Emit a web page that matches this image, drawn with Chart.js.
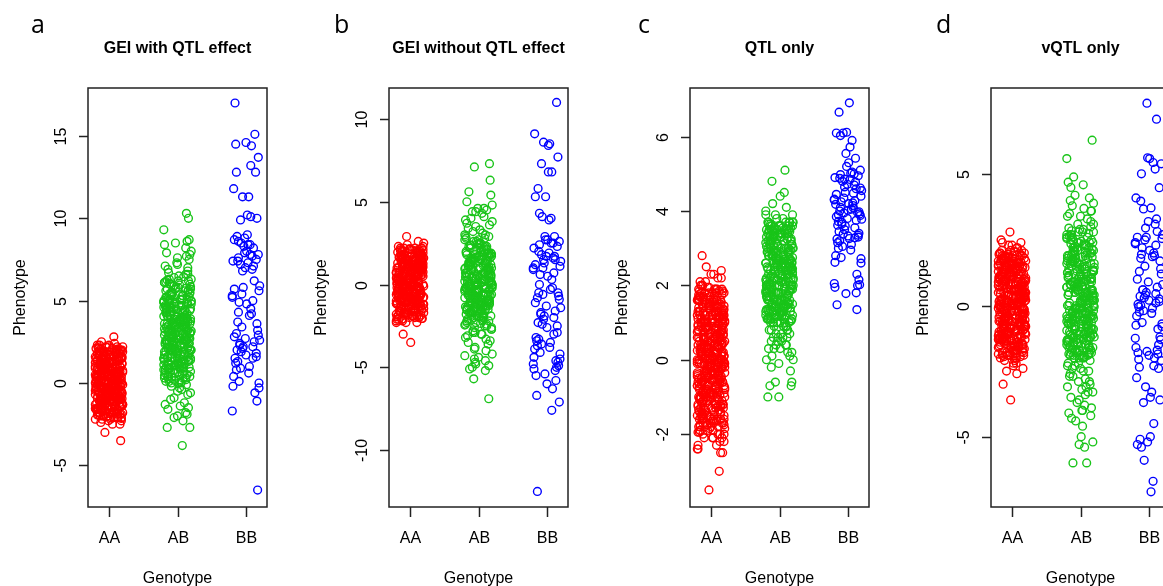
<!DOCTYPE html>
<html>
<head>
<meta charset="utf-8">
<script src="https://cdn.jsdelivr.net/npm/chart.js@4"></script>
<style>
html, body { margin: 0; padding: 0; background: #fff; overflow: hidden; width: 1163px; height: 586px; }
.panel { position: absolute; top: 0; width: 301px; height: 586px; }
</style>
</head>
<body>
<div class="panel" style="left:0px"><canvas id="panelA" width="301" height="586"></canvas></div>
<div class="panel" style="left:301px"><canvas id="panelB" width="301" height="586"></canvas></div>
<div class="panel" style="left:602px"><canvas id="panelC" width="301" height="586"></canvas></div>
<div class="panel" style="left:903px"><canvas id="panelD" width="301" height="586"></canvas></div>
<script>
var genotypes = ['AA', 'AB', 'BB'];
var panelLetters = ['a', 'b', 'c', 'd'];
var panelTitles = ['GEI with QTL effect', 'GEI without QTL effect', 'QTL only', 'vQTL only'];
var groupColors = ['#ff0000', '#19c419', '#0000ff'];

// y-axis tick values and ranges per panel
var ticksA = [-5, 0, 5, 10, 15];
var ticksB = [-10, -5, 0, 5, 10];
var ticksC = [-2, 0, 2, 4, 6];
var ticksD = [-5, 0, 5];
var rangeA = [-7.53, 17.91];
var rangeB = [-13.44, 11.87];
var rangeC = [-3.96, 7.31];
var rangeD = [-7.68, 8.29];

// horizontal jitter (stripchart style), in category units
var jitter = [0.03,-0.17,0.12,0.19,-0.05,-0.11,0.07,0.15,-0.19,-0.02,0.09,-0.14,-0.08,0.18,0.01,-0.2,-0.04,0.13,0.16,-0.12,
  0.05,0.1,-0.16,-0.07,0.2,-0.01,-0.18,0.14,0.06,-0.1,-0.13,0.17,0.02,0.11,-0.06,-0.15,0.08,-0.03,0.19,-0.09,
  -0.19,0.04,0.15,-0.11,0.0,0.12,-0.17,-0.05,0.18,-0.14,0.07,-0.02,-0.2,0.1,0.16,-0.08,0.03,-0.12,-0.16,0.13,
  0.06,-0.04,0.2,-0.1,-0.18,0.09,0.01,-0.07,0.14,-0.13,-0.01,0.17,0.05,-0.15,0.11,-0.06,-0.09,0.19,0.02,-0.19,
  0.08,0.15,-0.03,-0.11,0.12,-0.17,0.04,-0.14,0.18,0.1,-0.05,-0.2,0.07,-0.08,0.16,-0.12,0.0];

// a: GEI with QTL effect
var aAA = [0.3,-1.2,1.8,-0.4,0.9,-2.1,1.3,-0.8,0.1,2.0,-1.6,0.6,-0.1,1.1,-1.9,0.4,-0.6,1.6,-1.0,2.2,
  -0.3,1.4,-1.4,0.8,-2.2,0.0,1.9,-0.7,0.5,-1.7,1.2,-0.2,2.1,-1.1,0.7,-0.5,1.5,-1.8,0.2,-0.9,
  1.0,-1.3,0.4,-2.0,1.7,-0.6,0.1,1.3,-1.5,0.9,-0.1,2.3,-0.9,0.6,-1.9,1.1,-0.3,0.3,-1.2,1.8,
  -0.8,0.5,-1.6,2.0,-0.4,1.2,-2.1,0.2,1.6,-1.0,0.8,-0.2,1.4,-1.4,0.0,-0.7,1.9,-1.7,0.7,-0.5,
  0.6,-1.1,1.5,-0.3,2.2,-1.8,0.3,-0.9,1.0,-0.1,-2.2,1.3,-0.6,0.9,-1.3,0.1,1.7,-1.5,0.4,-0.2,
  1.2,-0.5,0.0,-1.9,1.8,-0.8,0.5,2.1,-1.2,0.8,-0.4,1.4,-2.0,0.2,-1.0,1.1,-0.1,0.6,-1.6,1.6,
  -1.4,0.9,-0.7,1.9,-0.2,0.3,-2.1,1.5,-1.1,0.7,-0.3,1.0,-1.7,2.0,-0.6,0.4,-0.9,1.3,-1.3,0.1,
  0.8,-1.5,1.1,-0.1,1.6,-2.0,0.5,-0.8,2.2,-1.2,0.0,-0.5,1.2,-1.8,0.9,-0.4,1.7,-1.0,0.3,-2.2,
  -0.6,1.5,-1.3,0.2,-1.9,1.0,-0.2,0.7,-1.6,1.9,-0.9,0.4,-0.1,1.3,-1.4,2.1,-0.7,0.6,-1.1,1.4,
  0.1,-1.7,0.9,-0.5,1.8,-1.0,0.3,-2.1,1.2,-0.3,0.8,-1.5,1.6,-0.8,0.0,-1.2,2.0,-0.4,1.1,-1.9,
  1.3,-0.2,0.6,-1.4,0.4,-0.9,1.7,-2.0,0.2,-0.6,1.0,-1.1,2.2,-1.8,0.7,-0.1,1.5,-0.7,0.5,-1.3,
  -1.05,0.35,1.65,-0.25,0.95,-1.75,0.15,2.05,-0.65,1.25,-1.45,0.55,-0.05,1.85,-0.85,0.75,-2.05,1.45,-1.25,0.05,
  0.65,-0.35,1.05,-1.95,0.25,1.55,-0.75,-1.35,2.15,-0.15,0.85,-1.15,0.45,1.95,-0.55,1.35,-1.65,-0.95,0.15,1.15,
  -1.85,1.75,-0.45,0.95,-1.05,0.35,2.05,-0.25,-1.55,0.65,1.25,-0.85,0.05,-2.15,1.65,-0.65,0.55,-1.25,1.05,-0.05,
  0.25,-1.45,1.85,-0.75,0.75,-0.15,1.45,-1.95,0.45,-1.15,1.15,-0.55,2.15,-1.75,0.85,-0.35,1.55,-1.05,0.15,-0.95,
  1.35,-0.25,-1.65,0.55,1.95,-0.85,0.05,-1.35,1.05,-0.45,0.65,-2.05,1.75,-0.65,0.35,-1.55,1.25,-0.05,0.95,-1.85,
  2.8,2.5,2.4,-2.5,-2.4,-2.5,-3.0,-3.5,2.3,-2.3,2.3,-2.3,1.9,-1.6,0.9,-0.9];
var aAB = [3.1,0.4,5.2,1.8,6.3,2.5,-0.2,4.4,1.1,3.7,5.9,0.9,2.9,4.8,1.5,6.8,2.2,3.4,0.1,4.1,
  2.7,5.5,1.3,3.9,0.6,4.6,2.0,6.1,-0.6,3.3,1.7,5.0,2.4,4.2,0.3,3.6,5.7,1.0,2.8,7.2,
  4.0,1.6,3.0,5.3,0.8,2.6,4.7,-0.9,3.8,6.5,1.4,2.1,5.1,0.0,3.5,4.5,1.9,6.0,2.3,3.2,
  0.5,4.9,2.9,1.2,5.8,3.6,-0.4,2.4,4.3,7.0,1.7,3.1,0.2,5.4,2.7,4.0,1.0,3.9,6.6,2.0,
  3.4,5.6,0.7,2.5,4.6,1.5,-1.2,3.0,6.2,2.2,4.1,0.9,3.7,5.0,1.3,2.8,7.5,0.4,4.4,2.6,
  1.9,4.8,3.3,0.0,5.5,2.1,3.8,6.4,1.1,2.9,-0.7,4.2,1.6,3.5,5.2,0.6,2.4,4.7,3.0,6.9,
  2.3,0.8,4.3,1.4,3.6,5.7,-0.1,2.7,4.9,1.8,3.2,6.1,0.3,2.0,4.5,3.9,1.2,5.3,2.6,7.8,
  4.7,2.2,0.5,3.1,5.9,1.7,3.8,-1.5,2.5,4.0,1.0,6.7,3.4,0.1,5.1,2.8,4.4,1.5,3.0,5.6,
  1.3,3.7,6.0,2.4,0.7,4.6,3.2,1.9,5.4,-0.3,2.9,4.1,7.3,1.6,3.5,0.2,5.0,2.1,4.3,3.9,
  3.6,1.1,4.9,2.6,-1.0,5.8,3.0,0.9,4.2,2.3,6.3,1.4,3.3,5.2,0.4,2.7,4.6,1.8,8.0,3.8,
  2.0,5.3,0.6,3.4,4.8,1.2,2.8,6.6,-0.5,3.7,1.7,4.4,2.5,5.7,0.0,3.1,4.0,1.0,7.1,2.2,
  4.5,2.9,1.5,3.9,6.2,0.8,2.4,5.1,3.3,-1.8,1.9,4.3,2.6,7.6,0.3,3.6,5.5,1.3,2.1,4.9,
  2.45,4.15,0.85,3.35,5.65,1.55,2.95,4.75,0.25,3.85,6.15,1.95,2.35,5.05,1.15,3.55,4.45,0.65,2.75,5.45,
  3.95,1.35,4.85,2.15,0.45,3.25,5.95,1.75,4.35,2.65,6.45,1.05,3.05,4.95,0.15,2.55,3.75,5.25,1.45,4.05,
  1.85,5.35,2.85,0.55,4.55,3.45,1.25,6.05,2.25,3.65,0.95,5.15,2.05,4.25,1.65,3.15,5.75,0.35,2.65,4.65,
  3.35,0.75,4.95,1.95,3.85,2.45,5.55,1.15,4.45,2.85,6.25,0.05,3.55,1.55,5.05,2.35,4.15,3.05,1.35,5.85,
  10.3,10.0,9.3,8.7,8.6,8.4,8.2,8.5,7.9,7.7,-2.0,-2.3,-2.7,-2.7,-3.8,-1.6,-1.9,-1.3,-2.1,-1.4];
var aBB = [17.0,15.1,14.6,14.4,14.5,13.7,13.2,12.8,12.8,11.8,11.3,11.3,10.2,10.0,9.9,10.1,
  9.0,8.9,8.8,8.7,8.6,8.5,8.4,8.4,8.3,8.2,8.0,7.9,7.8,7.8,7.7,7.6,7.5,7.4,7.4,7.3,7.2,7.1,7.0,6.9,6.8,
  6.2,5.9,5.8,5.7,5.6,5.4,5.3,5.2,5.0,4.9,4.8,4.5,
  4.3,4.2,4.1,3.7,3.6,3.4,3.2,3.0,2.9,2.8,2.7,2.6,2.5,2.4,2.3,2.2,2.2,2.1,2.0,1.9,
  1.8,1.7,1.6,1.5,1.5,1.3,1.2,1.0,0.9,0.8,
  0.6,0.4,0.1,0.0,-0.2,-0.3,-0.6,-1.1,-1.7,-6.5];

// b: GEI without QTL effect
var bAA = [-0.4,1.7,0.2,-1.5,2.1,-0.9,0.8,-2.0,1.1,-0.1,0.5,-1.2,1.9,-0.6,0.0,1.4,-1.8,0.7,-0.3,1.2,
  0.9,-1.0,1.6,-0.5,0.3,-2.1,1.3,-0.2,2.2,-1.4,0.6,-0.8,1.0,-1.7,0.1,1.8,-0.7,0.4,-1.1,1.5,
  -1.3,0.6,2.0,-0.3,1.1,-1.9,0.2,-0.9,1.7,-0.1,0.8,-1.6,1.4,-0.5,0.0,2.1,-1.2,0.5,-0.7,1.0,
  0.4,-1.5,1.2,-0.2,1.9,-1.0,0.7,-2.0,0.1,1.5,-0.6,0.9,-1.3,2.2,-0.4,1.3,-1.8,0.3,-0.8,1.6,
  1.8,-0.6,0.0,-1.4,1.0,-0.3,2.0,-1.1,0.6,-1.9,1.4,-0.1,0.8,-0.9,1.7,-1.6,0.2,1.1,-0.5,-2.1,
  -0.2,1.2,-1.7,0.5,2.1,-0.8,0.9,-1.2,1.6,0.1,-0.4,1.9,-1.5,0.7,-1.0,1.3,-0.6,0.3,-2.0,1.5,
  0.7,-0.9,1.5,-1.3,0.2,1.8,-0.5,1.0,-2.1,0.4,-0.1,1.2,-1.8,2.2,-0.7,0.6,-1.1,1.7,0.0,-1.4,
  1.1,-0.3,0.5,-1.6,2.0,-1.0,1.4,-0.2,0.8,-1.9,0.3,1.6,-0.8,1.0,-1.2,0.1,1.9,-0.6,-1.5,0.9,
  -1.1,1.3,-0.4,0.6,-2.0,1.7,-0.7,0.0,1.1,-1.4,2.1,-0.2,0.4,-1.7,1.5,-0.9,0.8,-0.1,1.2,-1.3,
  0.2,-1.8,1.0,-0.6,1.6,-1.1,0.7,-0.3,2.0,-1.5,0.3,1.4,-0.9,0.9,-2.1,1.8,-0.5,0.5,-1.2,1.3,
  0.55,-1.35,1.45,-0.15,1.95,-0.75,0.25,-1.85,1.05,-0.45,0.75,-1.15,2.05,-0.05,0.35,-1.65,1.25,-0.95,0.05,1.75,
  -0.55,0.95,-2.05,0.45,1.55,-0.25,1.15,-1.45,0.15,-0.85,1.85,-1.05,0.65,-0.35,1.35,-1.75,0.85,2.15,-0.65,-1.25,
  1.65,-0.05,0.35,-1.55,1.05,-0.95,0.15,1.95,-0.45,0.75,-1.95,1.25,-0.25,0.55,-1.15,1.45,-0.75,0.05,-1.35,0.95,
  -0.15,1.75,-0.85,0.45,-1.65,1.15,-0.55,2.05,-1.05,0.25,1.55,-0.35,0.85,-1.85,0.65,-0.05,1.35,-1.25,0.35,-0.65,
  1.05,-1.45,0.15,1.85,-0.95,0.55,-0.25,1.25,-2.05,0.95,-0.75,1.65,-1.15,0.05,-0.45,1.45,-1.55,0.75,2.15,-0.15,
  2.9,2.6,2.5,2.4,2.3,2.3,-2.3,-2.3,-2.2,-2.3,-3.0,-3.5,2.2,-2.2,1.9,-1.9,0.6,-0.6];
var bAB = [0.3,-1.5,1.8,-0.4,2.6,-2.2,0.9,-0.9,1.3,-3.1,0.0,3.4,-1.2,1.6,-0.6,2.1,-1.8,0.5,-2.7,1.0,
  -0.2,1.4,-1.0,3.0,-0.7,0.7,-2.4,2.3,-1.6,0.1,1.9,-0.3,4.1,-1.3,0.6,-2.0,1.2,-3.6,2.8,-0.5,
  1.5,-1.1,0.2,-2.9,2.0,-0.8,1.1,-1.9,3.7,-0.1,0.8,-1.4,2.5,-0.4,-3.3,1.7,-0.9,0.4,-2.2,1.3,
  -1.7,0.9,-0.2,2.2,-1.2,3.2,-0.6,0.5,-2.5,1.6,-1.0,0.0,4.4,-1.5,1.0,-3.9,2.7,-0.3,0.7,-2.1,
  2.4,-0.5,1.2,-1.8,0.3,-1.1,3.6,-2.6,0.8,-0.1,1.9,-1.4,0.1,-4.2,2.1,-0.7,1.4,-2.3,3.0,-0.9,
  0.6,-2.0,1.7,-0.3,2.9,-1.3,0.2,-0.8,1.1,-3.0,0.4,2.3,-1.6,-0.2,1.5,-2.7,3.9,-0.6,0.9,-1.2,
  -0.4,1.8,-1.5,0.7,-2.4,2.6,-0.1,1.0,-1.0,4.6,-3.5,0.5,-1.9,1.3,-0.7,2.0,-2.9,0.1,3.3,-1.1,
  1.1,-0.6,2.2,-1.7,0.0,-2.2,1.6,-0.9,3.1,-1.3,0.6,-4.0,2.5,-0.3,1.2,-2.0,0.3,-1.6,1.9,-3.2,
  -1.0,0.4,-2.8,1.4,-0.5,2.8,-1.4,0.8,-0.2,3.5,-2.3,1.7,-4.5,0.2,-0.8,2.3,-1.8,1.0,-0.1,4.0,
  0.7,-1.2,2.4,-0.4,1.5,-3.4,0.0,-1.9,1.8,-0.7,3.8,-2.5,0.9,-1.1,2.1,-0.2,-3.8,1.3,-1.5,0.5,
  2.7,-0.9,0.3,-2.1,1.2,-0.5,4.3,-1.6,0.6,-3.0,1.9,-1.0,0.1,2.9,-2.6,1.0,-0.3,-4.3,1.6,-1.3,
  0.45,-1.25,1.65,-0.35,0.95,-1.75,2.25,-0.65,0.15,-2.15,1.35,-0.95,0.65,-0.05,1.95,-1.45,0.25,-0.55,1.15,-1.05,
  -0.15,2.45,-1.55,0.85,-0.75,1.45,-2.35,0.35,-0.25,1.75,-1.15,0.55,-1.85,2.05,-0.45,1.05,-1.35,0.05,1.55,-0.85,
  1.25,-0.45,0.75,-1.65,2.15,-0.05,-1.15,0.45,1.85,-0.75,-2.45,0.95,-0.25,1.35,-1.95,0.15,2.35,-0.65,0.65,-1.25,
  7.3,7.1,6.3,5.6,5.4,5.0,4.6,4.8,4.5,4.4,-5.0,-4.8,-5.2,-4.7,-5.1,-5.7,-6.9,-4.4,-4.9,-4.6];
var bBB = [11.0,9.1,8.6,8.5,8.4,7.7,7.3,6.8,6.8,5.8,5.3,5.3,4.3,4.1,4.0,3.9,
  2.9,2.9,2.7,2.7,2.6,2.5,2.5,2.4,2.3,2.2,2.0,1.9,1.8,1.7,1.7,1.6,1.5,1.5,1.4,1.3,1.2,1.1,1.0,1.0,0.9,0.7,0.6,
  0.5,0.3,0.0,-0.2,-0.3,-0.5,-0.5,-0.6,-0.7,-0.8,-0.9,
  -1.1,-1.3,-1.4,-1.6,-1.7,-1.8,-1.9,-2.0,-2.1,-2.3,-2.4,-2.5,-2.6,-2.9,
  -3.0,-3.2,-3.3,-3.4,-3.5,-3.6,-3.7,-3.8,-3.9,-4.1,-4.2,-4.4,-4.5,-4.6,-4.7,-4.8,-4.9,-5.0,-5.1,-5.2,
  -5.4,-5.5,-5.8,-6.0,-6.3,-6.7,-7.1,-7.6,-12.5];

// c: QTL only
var cAA = [0.4,-1.1,1.3,-0.2,0.8,-1.6,0.1,1.0,-0.7,1.6,-0.4,0.6,-1.3,0.2,1.4,-0.9,0.0,-1.5,0.9,-0.3,
  -0.6,1.1,-1.2,0.5,1.7,-0.1,0.3,-1.4,1.2,-0.8,0.7,-0.5,1.5,-1.0,0.0,-1.7,0.9,-0.2,1.3,-1.1,
  1.0,-0.4,0.2,-1.5,0.6,1.4,-0.9,0.1,-1.2,1.8,-0.6,0.8,-0.1,1.1,-1.6,0.4,-0.3,1.5,-1.0,0.5,
  -0.2,0.9,-1.3,1.2,-0.7,0.3,1.6,-1.8,0.0,-0.5,1.0,-1.1,0.6,1.3,-0.3,-1.4,0.7,-0.8,1.7,0.2,
  0.6,-1.6,1.4,-0.1,0.1,-0.9,1.1,-0.4,1.9,-1.3,0.4,-0.6,0.8,-1.9,1.2,0.0,-1.0,0.5,-0.2,1.5,
  -1.0,0.3,1.7,-0.7,0.9,-1.5,0.0,1.3,-0.3,0.5,-1.2,1.0,-0.5,1.6,-1.7,0.2,-0.8,1.1,-0.1,0.7,
  1.3,-0.2,0.5,-1.1,1.8,-0.6,0.2,-1.4,0.8,-0.9,1.5,0.1,-1.6,0.6,-0.4,1.2,-2.0,0.3,1.0,-0.8,
  -0.5,1.4,-1.0,0.4,-0.1,1.1,-1.5,0.7,1.9,-0.7,0.0,-1.2,1.3,-0.3,0.9,-1.8,0.6,-0.9,1.6,0.2,
  0.8,-1.3,0.1,1.5,-0.5,0.4,-1.7,1.2,-0.2,0.9,-1.0,1.8,-0.6,0.0,-1.4,1.0,-0.3,0.6,-2.1,1.4,
  -0.8,0.5,-0.1,1.3,-1.2,0.2,1.7,-0.5,0.8,-1.6,1.1,-0.3,0.4,-0.9,1.6,-1.9,0.3,1.0,-0.7,0.0,
  1.2,-1.5,0.6,-0.4,1.0,-0.9,0.1,1.9,-1.1,0.7,-0.2,1.4,-1.7,0.3,-0.6,0.9,-1.3,1.6,0.0,-0.8,
  -0.1,1.1,-1.8,0.5,1.5,-0.7,0.2,-1.0,1.3,-0.4,0.8,-2.0,1.7,-0.6,0.4,-1.4,0.1,1.0,-0.9,0.6,
  0.3,-0.9,1.6,-1.6,0.7,-0.2,1.2,-1.2,0.0,0.9,-0.5,1.8,-1.9,0.5,-0.3,1.4,-1.0,0.2,-0.7,1.1,
  -1.4,0.8,-0.4,1.3,-2.1,0.4,1.0,-0.8,0.1,-1.5,1.7,-0.1,0.6,-1.1,1.5,-0.6,0.3,-1.8,0.9,-0.2,
  -0.15,1.25,-1.05,0.55,-0.45,1.65,-1.55,0.05,0.85,-0.85,1.45,-0.25,0.35,-1.35,1.05,-0.65,1.85,-1.75,0.25,-0.05,
  0.75,-1.25,1.55,-0.55,0.15,-0.95,1.15,-1.65,0.45,1.75,-0.35,0.95,-1.15,0.65,-0.75,1.35,-1.85,0.05,-0.15,1.05,
  -0.45,0.35,1.95,-1.45,0.85,-0.25,-1.05,1.55,-0.65,0.25,1.25,-1.55,0.55,-0.85,0.15,1.65,-1.35,0.75,-0.05,-1.95,
  1.45,-0.95,0.45,-0.35,1.85,-1.25,0.95,-0.55,0.05,-1.75,1.15,-0.15,0.65,-1.05,1.35,-0.75,0.35,-1.45,1.75,-0.25,
  0.25,-1.65,1.05,-0.45,0.85,1.55,-1.15,0.15,-0.65,1.25,-0.85,0.55,-1.35,1.95,-0.05,0.45,-1.85,0.95,-0.35,1.45,
  -0.55,0.75,-1.25,1.65,-0.95,0.05,1.15,-1.55,0.35,-0.15,1.85,-0.75,0.65,-1.05,1.35,-1.75,0.25,-0.45,0.85,-1.45,
  1.05,-0.25,0.55,-1.65,1.75,-0.85,0.15,-1.15,1.25,-0.65,0.45,-1.95,1.55,-0.35,0.95,-1.35,0.05,1.45,-0.55,0.35,
  2.8,2.5,2.4,2.3,2.2,2.2,2.1,2.0,2.0,1.9,2.1,1.8,2.3,1.9,-2.1,-2.2,-2.3,-2.0,-2.2,-2.1,
  -2.4,-2.5,-2.5,-2.4,-3.0,-3.5,-1.9,-2.0,-1.8,-2.3,1.7,-1.7,1.8,2.0,-1.6,1.6,0.5,-0.5,0.0,1.2];
var cAB = [2.1,1.3,3.0,1.7,2.6,3.4,1.1,2.3,2.9,1.5,3.6,2.0,1.2,2.7,3.2,1.8,2.4,1.0,3.5,2.2,
  1.6,2.8,3.3,1.4,2.5,1.9,3.1,1.1,2.2,3.7,1.7,2.6,1.3,3.0,2.0,2.9,1.5,3.4,2.4,1.8,
  3.2,2.1,1.2,2.7,1.6,3.5,2.3,1.0,2.8,3.1,1.4,2.5,3.6,1.9,2.2,1.1,3.3,2.6,1.7,2.0,
  2.4,1.5,3.4,2.0,1.3,2.9,3.7,1.8,2.6,1.2,3.0,2.3,1.6,3.5,2.8,1.0,2.1,3.2,1.4,2.5,
  1.9,3.1,2.6,1.1,3.6,2.2,1.5,2.8,3.3,1.3,2.4,1.8,3.0,2.0,1.6,3.4,2.7,1.2,2.3,3.5,
  2.8,1.4,2.2,3.3,1.7,2.5,1.0,3.0,2.1,1.9,3.6,1.3,2.6,3.2,1.5,2.0,2.9,1.8,3.7,2.4,
  1.2,2.7,3.5,2.0,1.6,3.1,2.3,1.1,2.9,3.4,1.8,2.5,1.4,3.2,2.1,1.7,2.6,3.0,1.3,2.2,
  0.9,0.7,0.5,0.8,0.3,0.6,0.2,0.9,0.4,0.1,0.7,0.0,0.8,0.5,0.3,0.6,-0.1,0.9,0.4,0.2,
  3.7,3.8,3.7,3.9,3.9,4.0,3.9,4.1,4.2,4.4,4.5,4.8,5.1,3.8,-0.2,-0.3,-0.6,-0.7,-0.7,-0.6,
  -1.0,-1.0,0.0,0.8,0.6,1.0,1.0,0.9,0.7,3.6,3.5,3.7,3.6,0.1,0.4,0.3,0.5,0.8,0.6,0.9,
  2.0,2.5,1.9,2.8,2.3,3.3,1.5,3.0,2.7,1.3,2.2,3.5,1.7,2.4,3.1,1.1,2.9,2.0,3.4,1.6,
  2.6,1.4,3.2,2.1,1.8,2.9,1.2,3.6,2.4,1.6,3.0,2.2,1.0,2.7,3.4,1.9,2.5,1.3,3.1,2.0,
  1.7,3.3,2.3,1.1,2.8,3.7,1.5,2.6,2.0,3.2,1.3,2.4,3.5,1.8,2.1,2.9,1.4,3.0,2.7,1.6,
  2.35,1.45,3.15,1.85,2.65,3.45,1.25,2.05,2.85,1.65,3.55,2.25,1.05,2.75,3.25,1.95,2.45,1.35,3.35,2.15,
  1.75,2.95,3.05,1.55,2.55,1.15,3.65,2.35,1.85,2.65,3.45,1.45,2.05,3.15,1.25,2.85,1.65,3.35,2.25,1.95,
  3.25,2.45,1.35,2.75,1.75,3.55,2.15,1.05,2.95,3.05,1.55,2.55,3.65,1.85,2.35,1.15,3.45,2.65,1.45,2.05,
  2.85,1.65,3.15,2.25,1.25,2.95,3.35,1.95,2.55,1.35,3.05,2.45,1.75,3.55,2.75,1.15,2.15,3.25,1.55,2.65];
var cBB = [6.91,6.66,6.12,6.1,6.03,6.1,5.9,5.72,5.55,5.42,5.3,5.2,5.1,5.05,5.0,4.98,4.95,4.9,4.88,4.85,
  4.8,4.78,4.72,4.7,4.65,4.6,4.55,4.5,4.45,4.4,4.35,4.32,4.3,4.28,4.25,4.2,4.15,4.1,4.08,4.05,
  4.0,3.98,3.95,3.92,3.9,3.88,3.85,3.8,3.78,3.75,3.7,3.65,3.6,3.55,3.5,3.45,3.38,3.35,3.33,3.3,
  3.28,3.25,3.2,3.15,3.1,3.05,3.0,2.95,2.8,2.75,2.72,2.62,2.6,2.3,2.15,2.05,2.02,2.0,1.95,1.8,
  1.78,1.48,1.35,4.02,4.48,3.62,4.62,4.22,3.72,3.96,4.18,4.86,5.02,3.26,3.4];

// d: vQTL only
var dAA = [0.5,-1.3,1.2,-0.4,1.8,-0.9,0.1,-1.7,0.8,-0.2,1.5,-1.1,0.3,-0.6,1.0,-1.5,0.6,1.7,-0.8,0.0,
  -0.3,1.1,-1.6,0.4,1.4,-1.0,0.9,-0.1,1.9,-0.7,0.2,-1.4,1.3,-0.5,0.7,-1.8,1.6,0.0,-1.2,0.5,
  1.0,-0.8,0.3,-1.5,1.7,-0.3,0.6,-1.1,1.2,-1.9,0.1,0.9,-0.6,1.4,-1.3,0.4,-0.2,1.8,-0.9,0.7,
  -1.0,0.6,1.5,-0.4,0.2,-1.7,1.1,-0.7,0.8,-1.2,1.9,-0.1,0.4,-1.5,1.3,-0.5,0.0,1.6,-0.9,-2.0,
  0.9,-0.2,1.4,-1.3,0.5,-0.8,1.8,0.1,-1.6,1.0,-0.4,0.7,-1.1,1.2,-0.6,0.3,-1.9,1.5,-0.1,0.6,
  -0.6,1.3,-1.4,0.8,0.0,-1.0,1.7,-0.3,0.4,-1.8,1.1,-0.7,2.0,-0.2,0.5,-1.2,0.9,-0.5,1.4,-1.6,
  1.6,-0.9,0.2,-0.4,1.0,-1.5,0.7,-0.1,1.8,-1.1,0.3,-0.8,1.2,-1.7,0.6,1.5,-0.3,0.0,-1.3,0.8,
  -0.1,0.9,-1.9,1.3,-0.6,0.4,-1.0,1.7,-0.3,0.1,-1.4,1.1,-0.8,0.6,1.9,-1.2,0.2,-0.5,1.4,-1.7,
  0.3,-1.1,1.6,-0.2,0.8,-1.6,1.0,-0.7,0.5,1.3,-1.3,0.0,-0.4,1.8,-0.9,0.7,-2.0,1.2,-0.6,0.2,
  1.1,-0.5,0.6,-1.8,1.5,-0.2,0.1,-1.0,1.9,-0.8,0.4,-1.4,0.9,-0.1,1.3,-1.6,0.3,-0.7,1.7,-1.2,
  -0.8,1.4,0.0,-1.3,0.7,-0.4,1.2,-1.9,0.5,1.6,-0.6,0.2,-1.1,1.0,-0.3,1.8,-1.5,0.8,-0.9,0.1,
  -0.35,1.15,-1.45,0.65,1.75,-0.85,0.25,-1.85,1.35,-0.15,0.55,-1.25,0.95,-0.55,1.95,-1.05,0.05,-1.65,1.55,0.35,
  0.85,-0.45,-1.95,1.25,-0.05,0.45,-1.35,1.65,-0.75,0.15,1.05,-1.15,0.75,-0.25,1.85,-1.55,0.35,-0.95,1.45,-0.65,
  -1.75,0.95,0.05,-0.35,1.35,-1.05,0.55,2.05,-0.85,0.25,-1.45,1.15,-0.15,0.65,-1.25,1.75,-0.55,0.15,-1.95,1.25,
  1.55,-0.65,0.35,-1.55,0.85,-0.05,1.05,-1.35,0.45,-0.75,1.95,-1.15,0.75,-0.25,1.45,-1.85,0.05,-0.45,1.65,-0.95,
  -1.05,0.55,1.85,-0.15,0.25,-1.65,1.15,-0.85,0.95,-0.35,1.35,-1.45,0.15,1.75,-0.55,-1.25,0.65,-0.05,1.55,-1.75,
  0.45,-0.95,1.25,-0.25,2.05,-1.35,0.75,-0.65,0.05,-1.05,1.45,-1.55,0.35,1.65,-0.45,-1.85,0.85,-0.15,1.05,-0.75,
  2.8,2.5,2.4,2.3,2.2,2.1,2.0,2.2,2.4,2.1,2.0,2.3,-2.1,-2.2,-2.4,-2.5,-2.6,-2.3,-3.0,-3.6,
  -2.0,-2.1,-1.9,-2.2,-2.0,-1.8,2.0,1.9,2.1,1.8,-1.7,1.6,-0.5,0.5,-1.0,1.0,0.0,-1.5,1.5,-0.2];
var dAB = [0.4,-1.2,2.1,-0.5,1.3,-1.8,0.9,2.7,-0.9,0.1,1.7,-1.5,0.6,-0.2,2.4,-1.0,1.0,-1.9,0.3,1.5,
  -0.7,2.0,-1.4,0.8,2.9,-0.1,1.2,-1.7,0.5,-0.6,1.9,-1.1,0.0,2.5,-0.3,1.4,-2.0,0.7,1.8,-0.8,
  1.1,-1.6,0.2,2.3,-0.4,1.6,-1.3,0.9,2.8,-0.9,0.4,-1.9,1.3,-0.1,2.2,-1.2,0.6,1.9,-0.5,0.0,
  -1.5,0.7,2.6,-0.2,1.0,-1.0,1.8,-0.7,0.3,2.0,-1.8,1.4,-0.4,0.8,2.4,-1.3,0.1,1.6,-0.6,-2.0,
  2.2,-0.3,0.5,-1.4,1.5,-0.8,3.0,0.2,-1.7,1.1,-0.5,2.6,-1.1,0.9,-0.1,1.7,-1.9,0.4,2.1,-0.9,
  0.0,1.3,-1.6,2.5,-0.6,0.6,-1.2,1.9,-0.2,2.8,-1.0,0.3,1.2,-1.5,0.8,-0.4,2.3,-1.8,1.0,-0.7,
  1.6,-1.3,0.1,2.0,-0.9,1.4,-0.3,2.7,-1.7,0.5,-0.6,1.8,-1.1,0.7,2.4,-0.1,1.1,-2.0,0.2,-0.5,
  -0.8,2.2,0.6,-1.4,1.7,-0.2,0.9,-1.9,2.9,-0.6,1.3,-1.0,0.4,2.1,-1.6,0.0,1.5,-0.4,2.6,-1.2,
  0.9,-0.7,1.9,-1.5,0.3,2.3,-0.3,1.0,-1.8,0.6,2.5,-1.1,1.4,-0.1,0.2,-1.3,1.7,-0.8,3.1,-0.5,
  2.4,-1.7,0.7,-0.4,1.2,-1.2,2.0,0.1,-0.9,1.6,-2.0,0.5,2.7,-0.6,1.1,-1.4,0.0,1.8,-0.2,0.8,
  0.55,-1.35,2.15,-0.45,1.25,-1.85,0.85,2.65,-0.95,0.15,1.75,-1.55,0.45,-0.25,2.35,-1.05,1.05,-1.75,0.35,1.45,
  -0.65,2.05,-1.45,0.75,2.85,-0.15,1.15,-1.65,0.65,-0.55,1.85,-1.25,0.05,2.45,-0.35,1.35,-1.95,0.95,1.65,-0.85,
  1.25,-1.15,0.25,2.25,-0.75,1.55,-1.35,0.85,2.75,-0.05,0.55,-1.85,1.35,-0.45,2.55,-0.95,0.45,1.95,-1.55,0.15,
  -1.25,0.65,2.35,-0.25,1.05,-1.05,1.85,-0.65,0.35,2.95,-1.75,1.45,-0.35,0.75,2.05,-1.45,0.05,1.65,-0.55,-0.15,
  3.2,3.4,3.6,3.3,3.5,3.8,4.0,3.7,4.2,4.5,4.6,4.7,4.9,3.1,3.4,3.9,4.1,3.6,5.6,6.3,
  -2.1,-2.3,-2.5,-2.2,-2.7,-2.9,-2.4,-3.1,-2.6,-3.3,-2.8,-3.5,-3.0,-2.2,-3.7,-2.5,-3.2,-3.9,-2.3,-3.4,
  -4.0,-4.3,-3.6,-4.1,-2.7,-4.4,-3.8,-4.6,-2.9,-3.3,-5.0,-5.3,-5.2,-5.4,-6.0,-6.0,-4.2,-3.1,-2.4,-4.0,
  0.5,-1.0,1.4,-0.3,2.2,-1.6,0.2,1.0,-0.7,2.8,-1.3,0.7,1.6,-0.1,-1.9,0.9,2.0,-0.5,1.2,-1.1];
var dBB = [7.71,7.1,5.6,5.63,5.4,5.45,5.2,5.02,4.49,4.1,3.98,3.72,3.68,3.3,3.2,3.1,2.95,2.82,2.7,2.6,
  2.6,2.55,2.5,2.4,2.35,2.3,2.2,2.1,2.0,1.95,1.9,1.86,1.8,1.7,1.5,1.4,1.3,1.2,1.0,0.9,
  0.8,0.7,0.6,0.6,0.5,0.45,0.4,0.35,0.3,0.25,0.2,0.15,0.1,0.05,0.0,-0.05,-0.1,-0.2,-0.25,-0.3,
  -0.4,-0.65,-0.7,-0.75,-0.8,-0.9,-1.2,-1.25,-1.3,-1.5,-1.6,-1.7,-1.75,-1.8,-1.85,-1.9,-2.0,-2.05,-2.1,-2.3,
  -2.35,-2.4,-2.75,-3.1,-3.3,-3.5,-3.6,-3.7,-4.5,-5.0,-5.1,-5.2,-5.3,-5.4,-5.9,-6.7,-7.1];

// box, ticks, labels drawn R-style from the chart's own scales
var rFrame = {
  id: 'rFrame',
  afterDraw: function(chart, args, opts) {
    var ctx = chart.ctx;
    var area = chart.chartArea;
    var xs = chart.scales.x;
    var ys = chart.scales.y;
    var cx = (area.left + area.right) / 2;
    var cy = (area.top + area.bottom) / 2;
    ctx.save();
    ctx.strokeStyle = '#222';
    ctx.lineWidth = 1.5;
    ctx.strokeRect(area.left, area.top, area.right - area.left, area.bottom - area.top);
    ctx.fillStyle = '#000';

    // y ticks
    ctx.font = '16px "Liberation Sans", Arial, sans-serif';
    opts.ticks.forEach(function(v) {
      var py = Math.round(ys.getPixelForValue(v)) + 0.5;
      ctx.beginPath();
      ctx.moveTo(area.left, py);
      ctx.lineTo(area.left - 9, py);
      ctx.stroke();
      ctx.save();
      ctx.translate(area.left - 22.5, py);
      ctx.rotate(-Math.PI / 2);
      ctx.textAlign = 'center';
      ctx.textBaseline = 'alphabetic';
      ctx.fillText(String(v), 0, 0);
      ctx.restore();
    });

    // x ticks
    genotypes.forEach(function(g, i) {
      var px = Math.round(xs.getPixelForValue(i + 1)) + 0.5;
      ctx.beginPath();
      ctx.moveTo(px, area.bottom);
      ctx.lineTo(px, area.bottom + 10);
      ctx.stroke();
      ctx.textAlign = 'center';
      ctx.textBaseline = 'alphabetic';
      ctx.fillText(g, px, area.bottom + 36);
    });

    // axis titles
    ctx.fillText('Genotype', cx, area.bottom + 76);
    ctx.save();
    ctx.translate(area.left - 63, cy);
    ctx.rotate(-Math.PI / 2);
    ctx.fillText('Phenotype', 0, 0);
    ctx.restore();

    // main title and panel letter
    ctx.font = 'bold 16px "Liberation Sans", Arial, sans-serif';
    ctx.fillText(opts.title, cx, 53);
    ctx.textAlign = 'left';
    ctx.font = '25px "Open Sans", sans-serif';
    ctx.fillText(opts.letter, opts.letterX, 33);
    ctx.restore();
  }
};

function drawPanel(canvasId, p, groups, range, ticks, letterX) {
  var datasets = groups.map(function(vals, g) {
    return {
      label: genotypes[g],
      data: vals.map(function(y, i) {
        return { x: g + 1 + jitter[(i * 37 + g * 11 + p * 5) % jitter.length], y: y };
      }),
      showLine: false,
      pointStyle: 'circle',
      pointRadius: 3.9,
      pointHoverRadius: 3.9,
      pointBorderWidth: 1.4,
      pointBorderColor: groupColors[g],
      pointBackgroundColor: 'rgba(0,0,0,0)',
      borderColor: groupColors[g]
    };
  });

  new Chart(document.getElementById(canvasId), {
    type: 'scatter',
    data: { datasets: datasets },
    options: {
      responsive: false,
      animation: false,
      events: [],
      layout: { padding: { left: 88, right: 34, top: 88, bottom: 79 } },
      plugins: {
        legend: { display: false },
        tooltip: { enabled: false },
        rFrame: { ticks: ticks, title: panelTitles[p], letter: panelLetters[p], letterX: letterX }
      },
      scales: {
        x: { type: 'linear', display: false, min: 0.693, max: 3.307 },
        y: { type: 'linear', display: false, min: range[0], max: range[1] }
      }
    },
    plugins: [rFrame]
  });
}

drawPanel('panelA', 0, [aAA, aAB, aBB], rangeA, ticksA, 31);
drawPanel('panelB', 1, [bAA, bAB, bBB], rangeB, ticksB, 33);
drawPanel('panelC', 2, [cAA, cAB, cBB], rangeC, ticksC, 36);
drawPanel('panelD', 3, [dAA, dAB, dBB], rangeD, ticksD, 33);
</script>
</body>
</html>
